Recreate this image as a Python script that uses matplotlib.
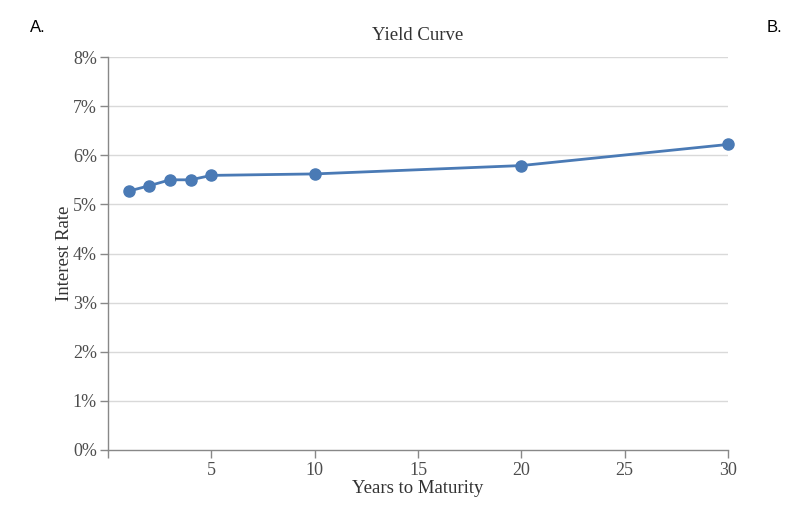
import matplotlib
matplotlib.use("Agg")
from matplotlib import pyplot as plt
from matplotlib.ticker import FuncFormatter

# values
years = [1, 2, 3, 4, 5, 10, 20, 30]
rates = [5.27, 5.38, 5.50, 5.50, 5.59, 5.62, 5.79, 6.22]
x_ticks = [0, 5, 10, 15, 20, 25, 30]
y_ticks = [0, 1, 2, 3, 4, 5, 6, 7, 8]

serif = "Liberation Serif"
line_col = "#4a7ab5"
axis_col = "#888888"
text_col = "#4d4d4d"

fig = plt.figure(figsize=(7.87, 5.27), dpi=100)
ax = fig.add_axes([108 / 787, 1 - 450 / 527, 620 / 787, 393 / 527])

for y in y_ticks[1:]:
    ax.axhline(y, color="#d9d9d9", lw=1.0, zorder=0)

ax.plot(years, rates, color=line_col, lw=2.0, marker="o", markersize=8,
        zorder=3, clip_on=False)

ax.set_xlim(0, 30)
ax.set_ylim(0, 8)
ax.set_xticks(x_ticks)
ax.set_xticklabels([""] + [str(v) for v in x_ticks[1:]])
ax.set_yticks(y_ticks)
ax.yaxis.set_major_formatter(FuncFormatter(lambda v, p: "%d%%" % v))

for s in ["top", "right"]:
    ax.spines[s].set_visible(False)
for s in ["left", "bottom"]:
    ax.spines[s].set_color(axis_col)
    ax.spines[s].set_linewidth(1.0)

ax.tick_params(axis="both", length=6, width=1, color=axis_col,
               labelsize=13, labelcolor=text_col)
ax.tick_params(axis="x", pad=2.5)
ax.tick_params(axis="y", pad=2)
for lab in ax.get_xticklabels() + ax.get_yticklabels():
    lab.set_family(serif)

ax.set_title("Yield Curve", family=serif, fontsize=13.5, color="#333333", pad=12)
ax.set_xlabel("Years to Maturity", family=serif, fontsize=13.5, color="#333333",
              labelpad=1)
ax.set_ylabel("Interest Rate", family=serif, fontsize=13.5, color="#333333",
              labelpad=0)

fig.text(30 / 787, 1 - 27 / 527, "A.", family="Liberation Sans", fontsize=12,
         va="center", ha="left")
fig.text(767 / 787, 1 - 27 / 527, "B.", family="Liberation Sans", fontsize=12,
         va="center", ha="left")

fig.savefig("out.png", dpi=100)
